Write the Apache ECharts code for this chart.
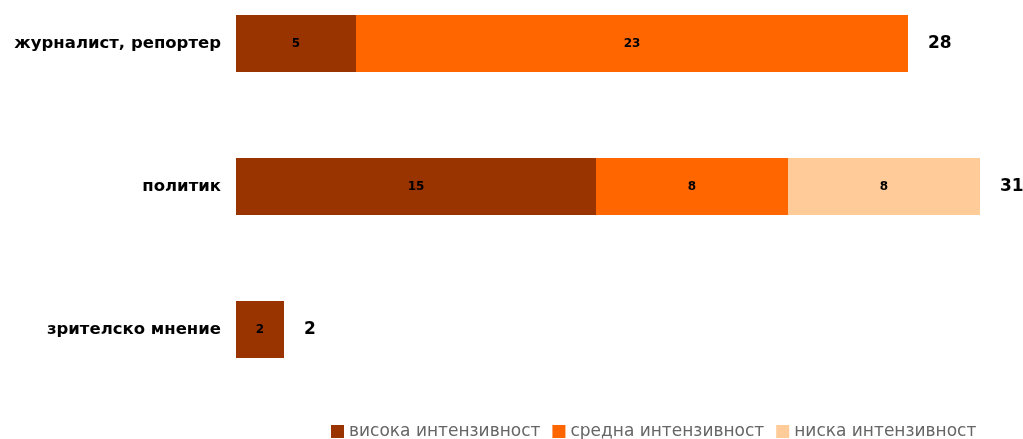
<!DOCTYPE html>
<html>
<head>
<meta charset="utf-8">
<script src="https://cdn.jsdelivr.net/npm/echarts@6/dist/echarts.min.js"></script>
<style>html,body{margin:0;padding:0;background:#fff}#c{width:1023px;height:439px}</style>
</head>
<body>
<div id="c"></div>
<script>
const categories = ['журналист, репортер', 'политик', 'зрителско мнение'];
const seriesNames = ['висока интензивност', 'средна интензивност', 'ниска интензивност'];
const high = [5, 15, 2];
const medium = [23, 8, 0];
const low = [0, 8, 0];
const totals = [28, 31, 2];

const colors = ['#993300', '#FF6600', '#FFCC99'];
const font = '"DejaVu Sans", "Noto Sans", sans-serif';
const values = [high, medium, low];

const chart = echarts.init(document.getElementById('c'));
const series = values.map((arr, i) => ({
  name: seriesNames[i],
  type: 'bar',
  stack: 'total',
  barWidth: 57,
  itemStyle: { color: colors[i] },
  label: {
    show: true,
    position: 'inside',
    color: '#000',
    fontWeight: 'bold',
    fontSize: 12,
    fontFamily: font,
    formatter: p => p.value > 0 ? p.value : ''
  },
  data: arr
}));
series.push({
  name: 'total',
  type: 'bar',
  barGap: '-100%',
  barWidth: 57,
  itemStyle: { color: 'rgba(0,0,0,0)' },
  label: {
    show: true,
    position: 'right',
    distance: 20,
    color: '#000',
    fontWeight: 'bold',
    fontSize: 17,
    fontFamily: font
  },
  emphasis: { disabled: true },
  z: 0,
  data: totals
});

chart.setOption({
  animation: false,
  grid: { left: 236, top: 43.5, height: 286, width: 768 },
  xAxis: { type: 'value', min: 0, max: 32, show: false },
  yAxis: {
    type: 'category',
    data: categories,
    inverse: true,
    boundaryGap: false,
    axisLine: { show: false },
    axisTick: { show: false },
    axisLabel: { margin: 15, color: '#000', fontWeight: 'bold', fontSize: 16.5, fontFamily: font }
  },
  legend: {
    data: seriesNames,
    top: 421,
    left: 326,
    padding: [2, 5],
    icon: 'rect',
    itemWidth: 13,
    itemHeight: 13,
    itemGap: 12,
    textStyle: { color: '#666666', fontSize: 17, fontFamily: font }
  },
  series: series
});
</script>
</body>
</html>
